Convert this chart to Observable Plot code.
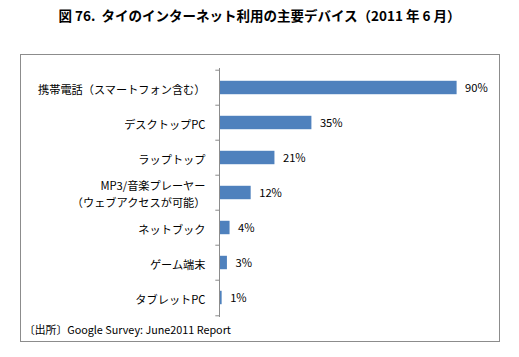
<!DOCTYPE html>
<html>
<head>
<meta charset="utf-8">
<script src="https://cdn.jsdelivr.net/npm/d3@7"></script>
<script src="https://cdn.jsdelivr.net/npm/@observablehq/plot@0.6"></script>
<style>
  html, body { margin: 0; padding: 0; background: #fff; }
  #wrap { position: relative; width: 519px; height: 357px; overflow: hidden; font-family: "Noto Sans CJK JP", sans-serif; }
  #title { position: absolute; left: 0; top: 5px; width: 519px; text-align: center; font-size: 13.5px; font-weight: bold; color: #000; line-height: 20px; white-space: pre; }
  #box { position: absolute; left: 20px; top: 54px; width: 478px; height: 286px; border: 1px solid #8c8c8c; box-sizing: content-box; }
  #caption { position: absolute; left: 24px; top: 320px; font-size: 10.8px; color: #000; line-height: 18px; white-space: pre; }
  #chart { position: absolute; left: 0; top: 0; }
</style>
</head>
<body>
<div id="wrap">
  <div id="box"></div>
  <div id="title"></div>
  <div id="chart"></div>
  <div id="caption"></div>
</div>
<script>
const titleText = "図 76.  タイのインターネット利用の主要デバイス（2011 年 6 月）";
const captionText = "〔出所〕Google Survey: June2011 Report";
const categories = [
  "携帯電話（スマートフォン含む）",
  "デスクトップPC",
  "ラップトップ",
  "MP3/音楽プレーヤー\n（ウェブアクセスが可能）",
  "ネットブック",
  "ゲーム端末",
  "タブレットPC"
];
const values = [90, 35, 21, 12, 4, 3, 1];

const data = categories.map((name, i) => ({name, value: values[i]}));

document.getElementById("title").textContent = titleText;
document.getElementById("caption").textContent = captionText;

const W = 519, H = 357;
const mt = 68, mb = 40, ml = 219, mr = 36;
const step = (H - mt - mb) / categories.length;
const barH = 14;
const inset = (step - barH) / 2;
const axisColor = "#8c8c8c";

const chart = Plot.plot({
  width: W,
  height: H,
  marginTop: mt,
  marginBottom: mb,
  marginLeft: ml,
  marginRight: mr,
  style: { fontFamily: "'Noto Sans CJK JP', sans-serif", fontSize: "11.2px", background: "transparent", color: "#000" },
  x: { domain: [0, 100], axis: null },
  y: { domain: categories, padding: 0, axis: null },
  marks: [
    Plot.barX(data, { x: "value", y: "name", fill: "#4f81bd", insetTop: inset, insetBottom: inset }),
    Plot.ruleX([0], { stroke: axisColor, strokeWidth: 1 }),
    Plot.ruleY(categories, { y: d => d, x1: -1.4, x2: 0, dy: -step / 2, stroke: axisColor }),
    Plot.ruleY([categories[categories.length - 1]], { y: d => d, x1: -1.4, x2: 0, dy: step / 2, stroke: axisColor }),
    Plot.text(data, { x: 0, y: "name", text: "name", textAnchor: "end", dx: -14, lineHeight: 1.55, fill: "#000" }),
    Plot.text(data, { x: "value", y: "name", text: d => d.value + "%", textAnchor: "start", dx: 8, fill: "#000" })
  ]
});
document.getElementById("chart").appendChild(chart);
</script>
</body>
</html>
